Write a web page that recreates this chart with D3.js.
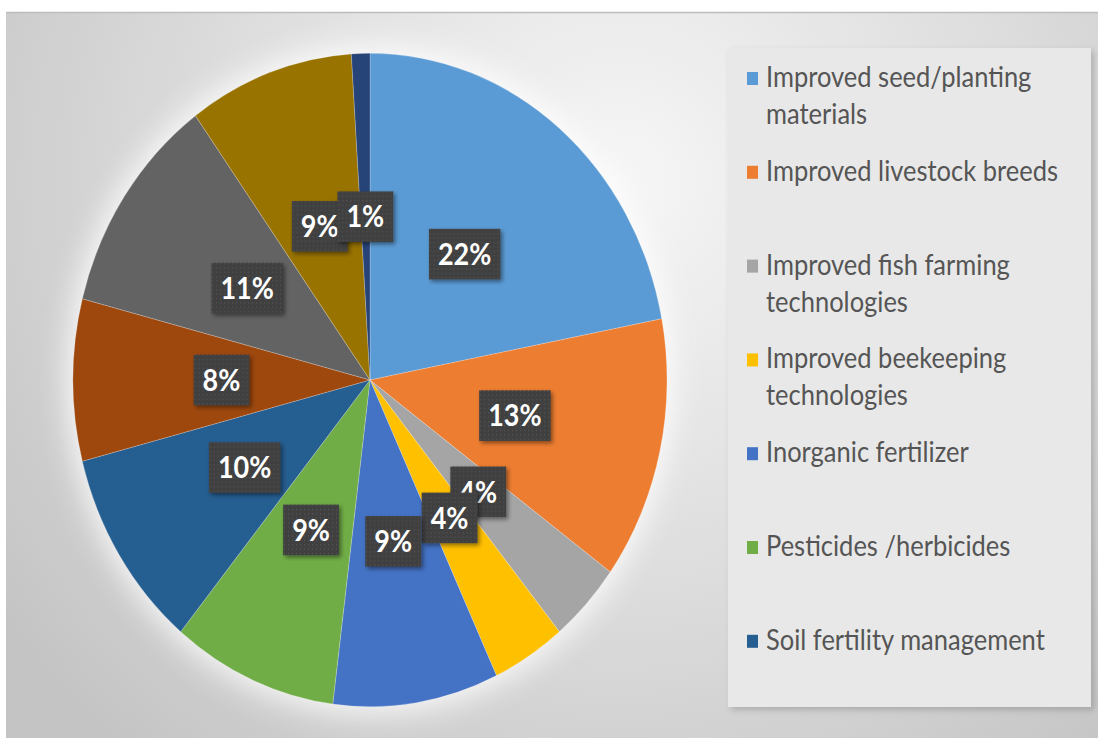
<!DOCTYPE html>
<html lang="en">
<head>
    <meta charset="UTF-8">
    <title>Technology adoption pie</title>
    <script src="https://d3js.org/d3.v7.min.js"></script>
    <style>
        body { margin: 0; background: white; }
    </style>
</head>
<body>
    <svg id="svg1" width="1098" height="738"></svg>

    <script>
        // data ---------------------------------------------------------------
        const legendNames = ["Improved seed/planting materials", "Improved livestock breeds",
                             "Improved fish farming technologies", "Improved beekeeping technologies",
                             "Inorganic fertilizer", "Pesticides /herbicides", "Soil fertility management"];
        const legendLines = [["Improved seed/planting", "materials"], ["Improved livestock breeds"],
                             ["Improved fish farming", "technologies"], ["Improved beekeeping", "technologies"],
                             ["Inorganic fertilizer"], ["Pesticides /herbicides"], ["Soil fertility management"]];
        const shares = [22, 13, 4, 4, 9, 9, 10, 8, 11, 9, 1];     // percent, clockwise from 12 o'clock
        const colors = ["#5B9BD5", "#ED7D31", "#A5A5A5", "#FFC000", "#4472C4", "#70AD47",
                        "#255E91", "#9E480E", "#636363", "#997300", "#264478"];

        // setup --------------------------------------------------------------
        const svg = d3.select("svg#svg1");
        const cx = 370, cy = 380, radius = 297, stretch = 1.1;   // source picture is squeezed a bit

        const defs = svg.append("defs");

        let bg = defs.append("radialGradient").attr("id", "bg")
            .attr("gradientUnits", "userSpaceOnUse")
            .attr("cx", 620).attr("cy", 180).attr("r", 760);
        bg.append("stop").attr("offset", 0).attr("stop-color", "#f6f6f6");
        bg.append("stop").attr("offset", 0.55).attr("stop-color", "#dcdcdc");
        bg.append("stop").attr("offset", 1).attr("stop-color", "#c4c4c4");

        defs.append("filter").attr("id", "glow")
            .attr("x", "-20%").attr("y", "-20%").attr("width", "140%").attr("height", "140%")
            .append("feGaussianBlur").attr("stdDeviation", 14);

        let shadow = defs.append("filter").attr("id", "shadow")
            .attr("x", "-30%").attr("y", "-30%").attr("width", "170%").attr("height", "170%");
        shadow.append("feDropShadow").attr("dx", 2).attr("dy", 2).attr("stdDeviation", 2)
            .attr("flood-color", "#000").attr("flood-opacity", 0.45);

        let legShadow = defs.append("filter").attr("id", "legShadow")
            .attr("x", "-10%").attr("y", "-10%").attr("width", "120%").attr("height", "120%");
        legShadow.append("feDropShadow").attr("dx", 3).attr("dy", 3).attr("stdDeviation", 3)
            .attr("flood-color", "#000").attr("flood-opacity", 0.18);

        let dots = defs.append("pattern").attr("id", "dots")
            .attr("width", 4).attr("height", 4).attr("patternUnits", "userSpaceOnUse");
        dots.append("rect").attr("width", 4).attr("height", 4).attr("fill", "#3f3f3f");
        dots.append("rect").attr("x", 1).attr("y", 1).attr("width", 1).attr("height", 1).attr("fill", "#5a5a5a");

        // background ---------------------------------------------------------
        svg.append("rect").attr("x", 6).attr("y", 12).attr("width", 1092).attr("height", 726)
            .attr("fill", "url(#bg)");
        svg.append("line").attr("x1", 6).attr("x2", 1098).attr("y1", 12.5).attr("y2", 12.5)
            .attr("stroke", "#bdbdbd").attr("stroke-width", 1.5);

        // pie ----------------------------------------------------------------
        const pieGen = d3.pie().sort(null).value(d => d);
        const arcs = pieGen(shares);
        const arcGen = d3.arc().innerRadius(0).outerRadius(radius);

        let chart = svg.append("g")
            .attr("transform", `translate(${cx}, ${cy}) scale(1, ${stretch})`);

        chart.append("circle").attr("r", radius + 6)
            .attr("fill", "#ffffff").attr("opacity", 0.85).attr("filter", "url(#glow)");

        chart.selectAll("path.slice")
            .data(arcs)
            .join("path")
            .attr("class", "slice")
            .attr("d", arcGen)
            .attr("fill", (d, i) => colors[i])
            .attr("stroke", "rgba(255,255,255,0.35)")
            .attr("stroke-width", 0.6);

        // data labels, drawn in slice order so later ones sit on top
        const labelFont = "bold 27px Lato, 'Open Sans', sans-serif";
        let labels = chart.selectAll("g.label")
            .data(arcs)
            .join("g")
            .attr("class", "label")
            .attr("transform", d => `translate(${arcGen.centroid(d)})`);

        labels.each(function (d) {
            const g = d3.select(this);
            const t = g.append("text")
                .text(d.data + "%")
                .attr("text-anchor", "middle")
                .attr("dy", "0.36em")
                .style("font", labelFont)
                .attr("fill", "white");
            const w = t.node().getComputedTextLength() + 18;
            g.insert("rect", "text")
                .attr("x", -w / 2).attr("y", -23)
                .attr("width", w).attr("height", 46)
                .attr("fill", "url(#dots)")
                .attr("filter", "url(#shadow)");
        });

        // legend -------------------------------------------------------------
        let legend = svg.append("g").attr("id", "legend");
        legend.append("rect")
            .attr("x", 728).attr("y", 48).attr("width", 363).attr("height", 659)
            .attr("fill", "#e8e8e8").attr("filter", "url(#legShadow)");

        const legendTop = 87, legendStep = 93.8, lineStep = 37;
        legendNames.forEach((name, i) => {
            const base = legendTop + i * legendStep;
            legend.append("rect")
                .attr("x", 747).attr("y", base - 15).attr("width", 11).attr("height", 13)
                .attr("fill", colors[i]);
            legendLines[i].forEach((line, j) => {
                legend.append("text")
                    .text(line)
                    .attr("transform", `translate(766, ${base + j * lineStep}) scale(1, ${stretch})`)
                    .style("font-family", "Lato, 'Open Sans', sans-serif")
                    .style("font-size", "25.5px")
                    .attr("fill", "#555555");
            });
        });
    </script>
</body>
</html>
